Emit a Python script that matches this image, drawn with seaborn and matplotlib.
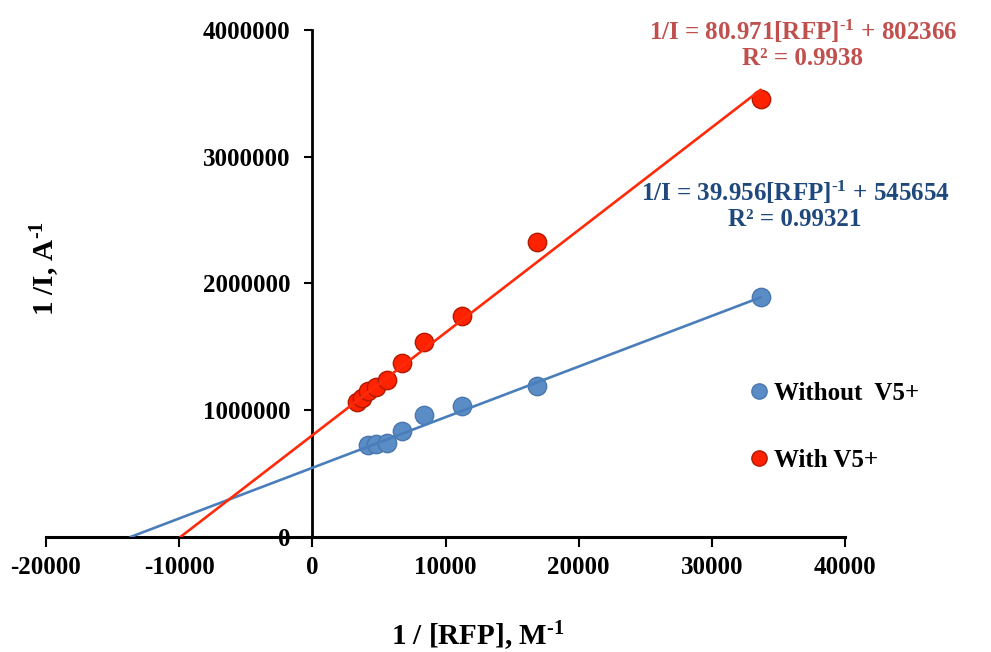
import numpy as np
import pandas as pd
import matplotlib
matplotlib.use("Agg")
import matplotlib.pyplot as plt
import seaborn as sns
from matplotlib.lines import Line2D

# ---- data ----
x_without = [4209, 4810, 5612, 6734, 8418, 11223, 16835, 33670]
y_without = [725000, 730000, 745000, 835000, 960000, 1030000, 1195000, 1890000]
x_with = [3367, 3741, 4209, 4810, 5612, 6734, 8418, 11223, 16835, 33670]
y_with = [1065000, 1100000, 1150000, 1185000, 1235000, 1375000, 1540000, 1740000, 2330000, 3455000]

slope_without, icpt_without = 39.956, 545654
slope_with, icpt_with = 80.971, 802366
r2_without, r2_with = "0.99321", "0.9938"

x_ticks = [-20000, -10000, 0, 10000, 20000, 30000, 40000]
y_ticks = [0, 1000000, 2000000, 3000000, 4000000]

label_without = "Without  V5+"
label_with = "With V5+"

# ---- style ----
sns.set_style("white")
plt.rcParams['font.family'] = ['Liberation Serif', 'DejaVu Serif']
plt.rcParams['font.weight'] = 'bold'
plt.rcParams['text.color'] = 'black'
plt.rcParams['xtick.color'] = 'black'
plt.rcParams['ytick.color'] = 'black'
plt.rcParams['axes.labelcolor'] = 'black'
plt.rcParams['mathtext.fontset'] = 'custom'
plt.rcParams['mathtext.rm'] = 'Liberation Serif:bold'
plt.rcParams['mathtext.bf'] = 'Liberation Serif:bold'
plt.rcParams['mathtext.default'] = 'rm'

SUP = r"$^{\text{-1}}$"

fig = plt.figure(figsize=(9.91, 6.52), dpi=100)
ax = fig.add_axes([0.0464, 0.1764, 0.8063, 0.7776])

df = pd.concat([
    pd.DataFrame({"x": x_without, "y": y_without, "series": label_without}),
    pd.DataFrame({"x": x_with, "y": y_with, "series": label_with}),
])

blue_face, blue_edge, blue_line = "#5A8CC6", "#4A78AE", "#4A7EBB"
red_face, red_edge, red_line = "#FF2200", "#B01A00", "#FF2A0A"

for lab, face, edge in [(label_without, blue_face, blue_edge), (label_with, red_face, red_edge)]:
    sub = df[df.series == lab]
    sns.scatterplot(data=sub, x="x", y="y", ax=ax, s=175, color=face,
                    edgecolor=edge, linewidth=1.0, zorder=3, legend=False)

# trendlines back-extrapolated to the x-axis
for slope, icpt, xs, col in [(slope_without, icpt_without, x_without, blue_line),
                              (slope_with, icpt_with, x_with, red_line)]:
    x0 = -icpt / slope
    xx = np.array([x0, max(xs)])
    sns.lineplot(x=xx, y=slope * xx + icpt, ax=ax, color=col, lw=1.9, zorder=4)

ax.set_xlim(-20000, 40000)
ax.set_ylim(0, 4000000)
ax.set_xticks(x_ticks)
ax.set_yticks(y_ticks)
ax.set_xticklabels([str(v) for v in x_ticks])
ax.set_yticklabels([str(v) for v in y_ticks])

for s in ["top", "right"]:
    ax.spines[s].set_visible(False)
ax.spines["left"].set_position(("data", 0))
ax.spines["left"].set_linewidth(2.0)
ax.spines["bottom"].set_linewidth(2.2)
ax.spines["left"].set_color("black")
ax.spines["bottom"].set_color("black")

ax.tick_params(axis="x", direction="out", length=7, width=1.5, pad=7, labelsize=18,
               bottom=True, colors="black")
ax.tick_params(axis="y", direction="out", length=6, width=1.5, pad=10, labelsize=18,
               left=True, colors="black")
for t in ax.get_xticklabels() + ax.get_yticklabels():
    t.set_fontweight("bold")

ax.set_xlabel("")
ax.set_ylabel("")
fig.text(478 / 991, 1 - 636 / 652, "1 / [RFP], M" + SUP, ha="center", va="center",
         fontsize=21, fontweight="bold", color="black")
fig.text(45 / 991, 1 - 268 / 652, "1 /I, A" + SUP, ha="center", va="center",
         rotation=90, fontsize=21, fontweight="bold", color="black")

# equations
fig.text(803 / 991, 1 - 44 / 652,
         f"1/I = {slope_with}[RFP]{SUP} + {icpt_with}\nR² = {r2_with}",
         ha="center", va="center", fontsize=18, fontweight="bold", color="#C0504D",
         linespacing=1.1)
fig.text(795 / 991, 1 - 205 / 652,
         f"1/I = {slope_without}[RFP]{SUP} + {icpt_without}\nR² = {r2_without}",
         ha="center", va="center", fontsize=18, fontweight="bold", color="#1F497D",
         linespacing=1.1)

handles = [
    Line2D([], [], marker="o", ls="", markersize=11, markerfacecolor=blue_face,
           markeredgecolor=blue_edge, label=label_without),
    Line2D([], [], marker="o", ls="", markersize=11, markerfacecolor=red_face,
           markeredgecolor=red_edge, label=label_with),
]
leg = fig.legend(handles=handles, loc="upper left", bbox_to_anchor=(734 / 991, 1 - 372 / 652),
                 frameon=False, prop={"family": "Liberation Serif", "weight": "bold", "size": 18},
                 handletextpad=0.0, labelspacing=1.75, handlelength=1.2, borderaxespad=0)
for t in leg.get_texts():
    t.set_color("black")

fig.savefig("out.png", dpi=100)
